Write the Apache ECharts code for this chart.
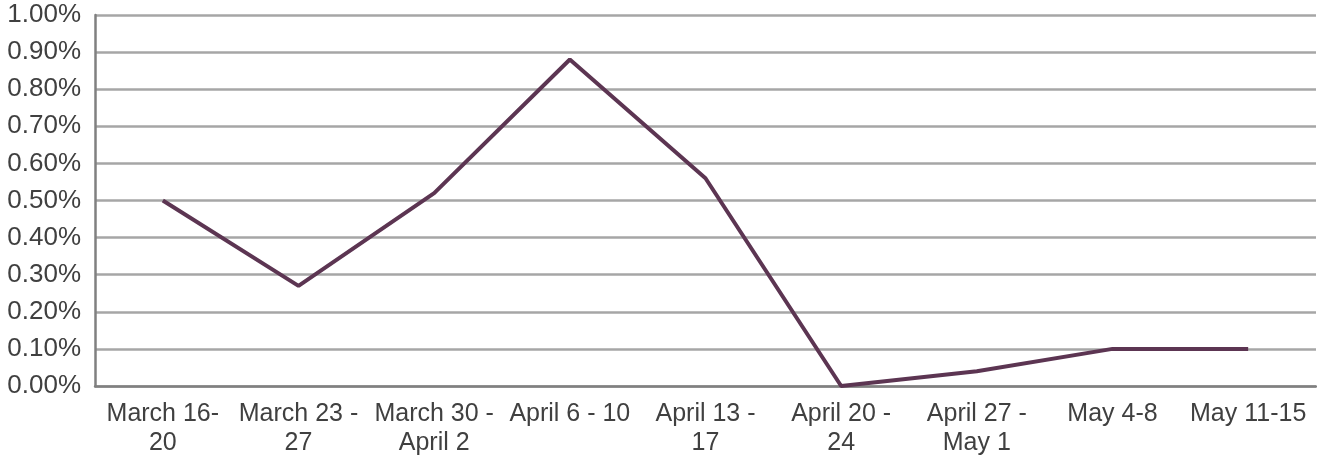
<!DOCTYPE html>
<html>
<head>
<meta charset="utf-8">
<script src="https://cdn.jsdelivr.net/npm/echarts@6/dist/echarts.min.js"></script>
<style>
html,body{margin:0;padding:0;background:#fff;}
#chart{width:1317px;height:458px;}
</style>
</head>
<body>
<div id="chart"></div>
<script>
var categories = ["March 16-\n20", "March 23 -\n27", "March 30 -\nApril 2", "April 6 - 10", "April 13 -\n17", "April 20 -\n24", "April 27 -\nMay 1", "May 4-8", "May 11-15"];
var values = [0.50, 0.27, 0.52, 0.88, 0.56, 0.00, 0.04, 0.10, 0.10];

var chart = echarts.init(document.getElementById('chart'));
chart.setOption({
  animation: false,
  grid: {left: 95, right: 1, top: 15, bottom: 72, containLabel: false},
  xAxis: {
    type: 'category',
    data: categories,
    boundaryGap: true,
    axisLine: {show: true, lineStyle: {color: '#808080', width: 2.5}},
    axisTick: {show: false},
    axisLabel: {
      interval: 0,
      color: '#404040',
      fontFamily: 'Liberation Sans, Arial, sans-serif',
      fontSize: 25,
      lineHeight: 29,
      margin: 14
    },
    splitLine: {show: false}
  },
  yAxis: {
    type: 'value',
    min: 0,
    max: 1,
    interval: 0.1,
    axisLine: {show: true, lineStyle: {color: '#808080', width: 2.5}},
    axisTick: {show: false},
    axisLabel: {
      color: '#404040',
      fontFamily: 'Liberation Sans, Arial, sans-serif',
      fontSize: 26,
      margin: 14,
      formatter: function (v) { return v.toFixed(2) + '%'; }
    },
    splitLine: {show: true, lineStyle: {color: '#a6a6a6', width: 2.5}}
  },
  series: [{
    type: 'line',
    data: values,
    symbol: 'none',
    lineStyle: {color: '#5c3552', width: 4},
    itemStyle: {color: '#5c3552'}
  }]
});
</script>
</body>
</html>
